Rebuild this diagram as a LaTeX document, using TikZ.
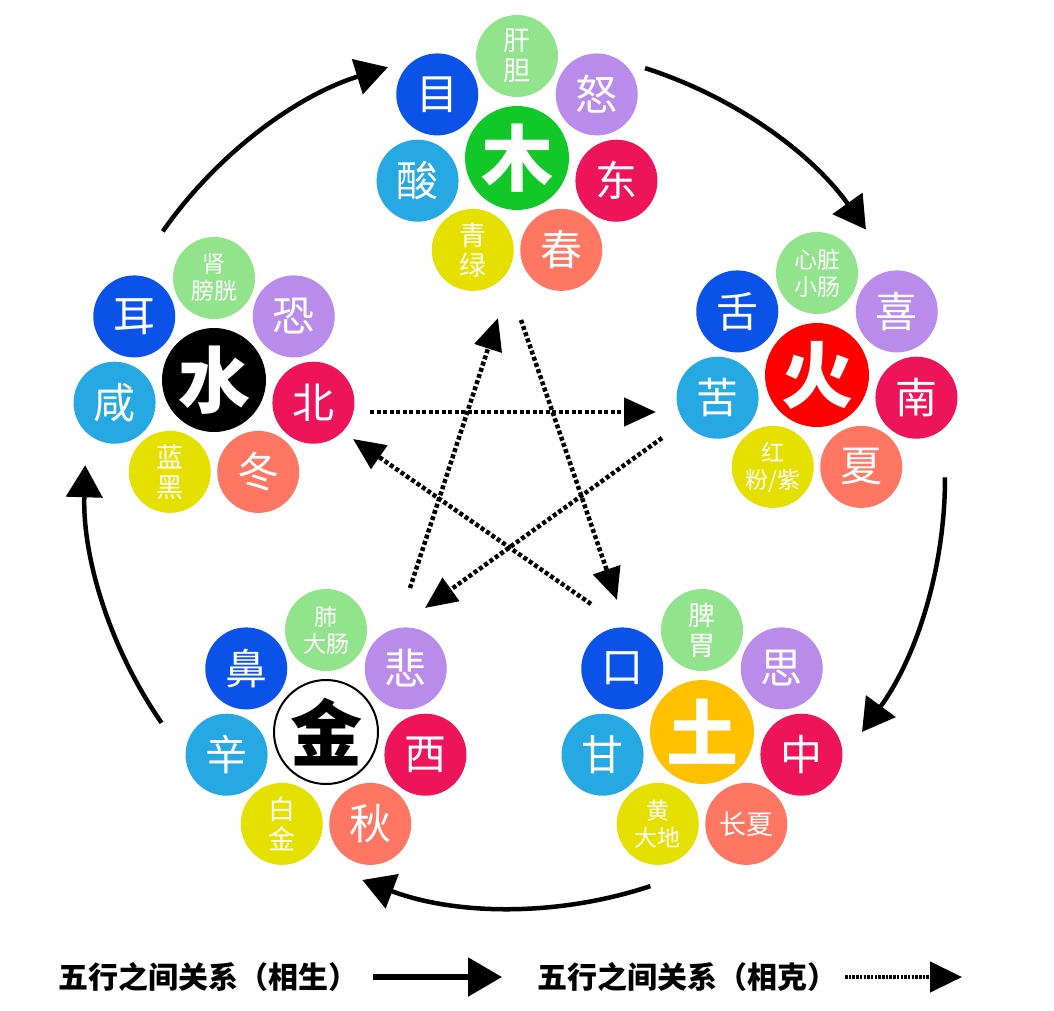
\documentclass[tikz,border=0pt]{standalone}
\usepackage{fontspec}
\setmainfont{Noto Sans CJK SC}
\usetikzlibrary{arrows.meta}
\definecolor{organ}{HTML}{91E48C}
\definecolor{emo}{HTML}{B98CEB}
\definecolor{dirc}{HTML}{EE145A}
\definecolor{season}{HTML}{FF7662}
\definecolor{colr}{HTML}{E6E000}
\definecolor{taste}{HTML}{26A8E2}
\definecolor{sense}{HTML}{0A52E8}
\definecolor{woodc}{HTML}{12C828}
\definecolor{firec}{HTML}{FF0000}
\definecolor{earthc}{HTML}{FFC000}
\newcommand\petal[6]{\path (#1) ++(#3:102) node[petal,fill=#4,#5] (#1-#2) {#6};}
\begin{document}
\begin{tikzpicture}[x=1pt,y=-1pt,
  petal/.style={circle,minimum size=82pt,inner sep=0pt,text=white,align=center,
    font=\fontsize{42}{44}\selectfont},
  two/.style={font=\fontsize{27}{30}\selectfont},
  twos/.style={font=\fontsize{23}{27}\selectfont},
  bigc/.style={circle,minimum size=104pt,inner sep=0pt,
    font=\fontsize{72}{72}\selectfont\bfseries},
  sheng/.style={line width=4.5pt,-{Triangle[length=32pt,width=36pt]}},
  ke/.style={line width=4.5pt,dash pattern=on 4pt off 2.5pt,-{Triangle[length=32pt,width=28pt]}},
  legtext/.style={font=\fontsize{30}{30}\selectfont\bfseries,inner sep=0pt}]
\fill[white] (0,0) rectangle (1054,1011);
\useasboundingbox (0,0) rectangle (1054,1011);

% centres
\node[bigc,fill=woodc,text=white] (wood) at (517,158) {木};
\node[bigc,fill=firec,text=white] (fire) at (817,375) {火};
\node[bigc,fill=black,text=white] (water) at (214,380) {水};
\node[bigc,fill=white,draw=black,line width=2pt,text=black] (metal) at (326,732) {金};
\node[bigc,fill=earthc,text=white] (earth) at (702,732) {土};

% wood
\petal{wood}{1}{-90}{organ}{two}{肝\\胆}
\petal{wood}{2}{-38.57}{emo}{}{怒}
\petal{wood}{3}{12.86}{dirc}{}{东}
\petal{wood}{4}{64.29}{season}{}{春}
\petal{wood}{5}{115.71}{colr}{two}{青\\绿}
\petal{wood}{6}{167.14}{taste}{}{酸}
\petal{wood}{7}{218.57}{sense}{}{目}
% fire
\petal{fire}{1}{-90}{organ}{twos}{心脏\\小肠}
\petal{fire}{2}{-38.57}{emo}{}{喜}
\petal{fire}{3}{12.86}{dirc}{}{南}
\petal{fire}{4}{64.29}{season}{}{夏}
\petal{fire}{5}{115.71}{colr}{twos}{红\\粉/紫}
\petal{fire}{6}{167.14}{taste}{}{苦}
\petal{fire}{7}{218.57}{sense}{}{舌}
% water
\petal{water}{1}{-90}{organ}{twos}{肾\\膀胱}
\petal{water}{2}{-38.57}{emo}{}{恐}
\petal{water}{3}{12.86}{dirc}{}{北}
\petal{water}{4}{64.29}{season}{}{冬}
\petal{water}{5}{115.71}{colr}{two}{蓝\\黑}
\petal{water}{6}{167.14}{taste}{}{咸}
\petal{water}{7}{218.57}{sense}{}{耳}
% metal
\petal{metal}{1}{-90}{organ}{twos}{肺\\大肠}
\petal{metal}{2}{-38.57}{emo}{}{悲}
\petal{metal}{3}{12.86}{dirc}{}{西}
\petal{metal}{4}{64.29}{season}{}{秋}
\petal{metal}{5}{115.71}{colr}{two}{白\\金}
\petal{metal}{6}{167.14}{taste}{}{辛}
\petal{metal}{7}{218.57}{sense}{}{鼻}
% earth
\petal{earth}{1}{-90}{organ}{two}{脾\\胃}
\petal{earth}{2}{-38.57}{emo}{}{思}
\petal{earth}{3}{12.86}{dirc}{}{中}
\petal{earth}{4}{64.29}{season}{two}{长夏}
\petal{earth}{5}{115.71}{colr}{twos}{黄\\大地}
\petal{earth}{6}{167.14}{taste}{}{甘}
\petal{earth}{7}{218.57}{sense}{}{口}

% generating cycle (arcs)
\coordinate (O) at (515,478);
\path (O) ++(-145:430) coordinate (s1);
\path (O) ++(-72.4:430) coordinate (s2);
\path (O) ++(-0.1:430) coordinate (s3);
\path (O) ++(71.65:430) coordinate (s4);
\path (O) ++(145.3:430) coordinate (s5);
\draw[sheng] (s1) arc[start angle=-145,end angle=-107.2,radius=430];
\draw[sheng] (s2) arc[start angle=-72.4,end angle=-35.3,radius=430];
\draw[sheng] (s3) arc[start angle=-0.1,end angle=36.2,radius=430];
\draw[sheng] (s4) arc[start angle=71.65,end angle=110.8,radius=430];
\draw[sheng] (s5) arc[start angle=145.3,end angle=181.7,radius=430];

% controlling cycle (star)
\coordinate (k1a) at (370,412); \coordinate (k1b) at (656,412);
\coordinate (k2a) at (662,438); \coordinate (k2b) at (425,608);
\coordinate (k3a) at (410,588); \coordinate (k3b) at (498,318);
\coordinate (k4a) at (521,320); \coordinate (k4b) at (617,600);
\coordinate (k5a) at (591,604); \coordinate (k5b) at (353,439);
\draw[ke] (k1a) -- (k1b);
\draw[ke] (k2a) -- (k2b);
\draw[ke] (k3a) -- (k3b);
\draw[ke] (k4a) -- (k4b);
\draw[ke] (k5a) -- (k5b);

% legend
\node[legtext,anchor=west] (leg1) at (58,977) {五行之间关系（相生）};
\node[legtext,anchor=west] (leg2) at (537,977) {五行之间关系（相克）};
\coordinate (la1) at (373,977); \coordinate (la2) at (502,977);
\coordinate (lb1) at (845,977); \coordinate (lb2) at (962,977);
\draw[line width=5.5pt,-{Triangle[length=34pt,width=38pt]}] (la1) -- (la2);
\draw[line width=4.5pt,dash pattern=on 2.5pt off 1.2pt,-{Triangle[length=32pt,width=30pt]}] (lb1) -- (lb2);
\end{tikzpicture}
\end{document}
